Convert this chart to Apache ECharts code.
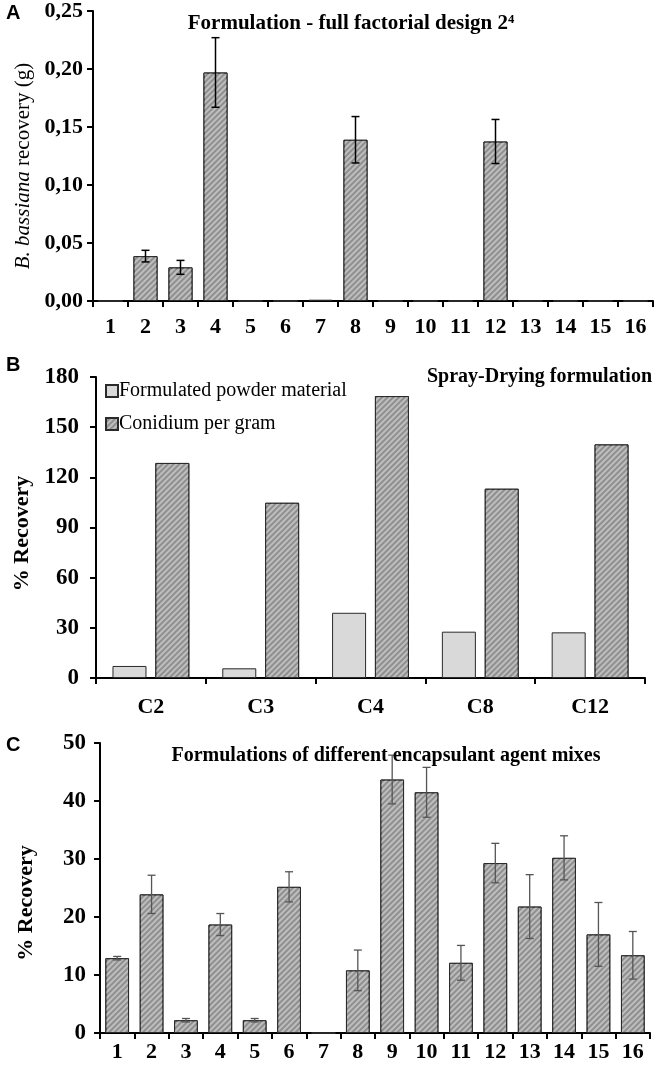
<!DOCTYPE html>
<html><head><meta charset="utf-8">
<script src="https://cdn.jsdelivr.net/npm/echarts@6/dist/echarts.min.js"></script>
<style>html,body{margin:0;padding:0;background:#fff}#c{width:661px;height:1071px}</style>
</head><body><div id="c"></div>
<script>
// Panel A
const catsA = ['1','2','3','4','5','6','7','8','9','10','11','12','13','14','15','16'];
const valsA = [0,0.0387,0.029,0.197,0,0,0.001,0.139,0,0,0,0.1375,0,0,0,0];
const errA  = [0,0.005,0.006,0.030,0,0,0,0.020,0,0,0,0.019,0,0,0,0];
const ticksA = [0,0.05,0.10,0.15,0.20,0.25];
// Panel B
const catsB = ['C2','C3','C4','C8','C12'];
const powderB = [7.2,5.8,39.0,27.7,27.3];
const conidiumB = [128.6,104.8,168.6,113.2,139.7];
const ticksB = [0,30,60,90,120,150,180];
// Panel C
const catsC = ['1','2','3','4','5','6','7','8','9','10','11','12','13','14','15','16'];
const valsC = [12.9,23.9,2.2,18.7,2.2,25.2,0,10.8,43.7,41.5,12.1,29.3,21.8,30.2,17.0,13.4];
const errC  = [0.3,3.3,0.3,1.9,0.3,2.6,0,3.5,4.2,4.3,3.0,3.4,5.5,3.8,5.5,4.1];
const ticksC = [0,10,20,30,40,50];

const SERIF = '"Liberation Serif","Times New Roman",serif';
const SANS = '"Liberation Sans",Arial,sans-serif';
const stripe = {symbol:'rect', symbolSize:1, dashArrayX:[1,0], dashArrayY:[1.5,2], rotation:-Math.PI/4, color:'rgba(210,210,210,0.7)'};
const hatchStyle = {color:'#8f8f8f', borderColor:'#2a2a2a', borderWidth:1, decal: stripe};

function errData(vals, errs){
  const d = [];
  vals.forEach((v,i)=>{ if(errs[i]>0) d.push([i, v-errs[i], v+errs[i]]); });
  return d;
}
function errRender(color, hw, lw){
  return function(params, api){
    const x = api.value(0), lo = api.value(1), hi = api.value(2);
    const p1 = api.coord([x, hi]), p2 = api.coord([x, lo]);
    const st = {stroke:color, lineWidth:lw};
    return {type:'group', children:[
      {type:'line', shape:{x1:p1[0],y1:p1[1],x2:p2[0],y2:p2[1]}, style:st},
      {type:'line', shape:{x1:p1[0]-hw,y1:p1[1],x2:p1[0]+hw,y2:p1[1]}, style:st},
      {type:'line', shape:{x1:p2[0]-hw,y1:p2[1],x2:p2[0]+hw,y2:p2[1]}, style:st}
    ]};
  };
}
function xAx(idx, cats, margin, size){
  return {type:'category', gridIndex:idx, data:cats,
    axisLine:{lineStyle:{color:'#000', width:2}},
    axisTick:{show:true, length:6, lineStyle:{color:'#000', width:2}, interval:0},
    axisLabel:{interval:0, margin:margin, color:'#000', fontFamily:SERIF, fontWeight:'bold', fontSize:size}};
}
function yAx(idx, ticks, fmt, margin, size, name, nameGap, nameStyle){
  return {type:'value', gridIndex:idx, min:ticks[0], max:ticks[ticks.length-1], interval:ticks[1]-ticks[0],
    splitLine:{show:false},
    axisLine:{show:true, lineStyle:{color:'#000', width:2}},
    axisTick:{show:true, length:6, lineStyle:{color:'#000', width:2}},
    axisLabel:{margin:margin, color:'#000', fontFamily:SERIF, fontWeight:'bold', fontSize:size, formatter:fmt},
    name:name, nameLocation:'middle', nameGap:nameGap, nameRotate:90, nameTextStyle:nameStyle};
}

const chart = echarts.init(document.getElementById('c'));
chart.setOption({
  animation:false,
  title:[
    {text:'Formulation - full factorial design 2⁴', left:346, top:8, textAlign:'center',
     textStyle:{fontFamily:SERIF, fontWeight:'bold', fontSize:21, color:'#000'}},
    {text:'Spray-Drying formulation', right:4, top:362,
     textStyle:{fontFamily:SERIF, fontWeight:'bold', fontSize:20, color:'#000'}},
    {text:'Formulations of different encapsulant agent mixes', left:381, top:741, textAlign:'center',
     textStyle:{fontFamily:SERIF, fontWeight:'bold', fontSize:20, color:'#000'}}
  ],
  graphic:[
    {type:'text', left:6, top:3, style:{text:'A', font:'bold 20px '+SANS, fill:'#000'}},
    {type:'text', left:6, top:355, style:{text:'B', font:'bold 20px '+SANS, fill:'#000'}},
    {type:'text', left:6, top:735, style:{text:'C', font:'bold 20px '+SANS, fill:'#000'}}
  ],
  legend:{show:true, orient:'vertical', left:100, top:376, itemWidth:12, itemHeight:12, itemGap:13,
    icon:'rect', data:['Formulated powder material','Conidium per gram'],
    textStyle:{fontFamily:SERIF, fontSize:20, color:'#000', padding:[0,0,0,-4]}},
  grid:[
    {left:93, top:10, width:560, height:291},
    {left:96, top:377, width:549, height:301},
    {left:100, top:743, width:550, height:290}
  ],
  xAxis:[ xAx(0, catsA, 15, 22), xAx(1, catsB, 18, 22), xAx(2, catsC, 8, 22) ],
  yAxis:[
    yAx(0, ticksA, v=>v.toFixed(2).replace('.',','), 10, 22,
        '{i|B. bassiana} recovery (g)', 52,
        {fontFamily:SERIF, fontSize:21, color:'#000', padding:[0,20,0,0],
         rich:{i:{fontFamily:SERIF, fontSize:21, fontStyle:'italic', color:'#000'}}}),
    yAx(1, ticksB, v=>String(v), 17, 23, '% Recovery', 58,
        {fontFamily:SERIF, fontSize:22, fontWeight:'bold', color:'#000', padding:[0,12,0,0]}),
    yAx(2, ticksC, v=>String(v), 14, 23, '% Recovery', 63,
        {fontFamily:SERIF, fontSize:22, fontWeight:'bold', color:'#000', padding:[0,30,0,0]})
  ],
  series:[
    {type:'bar', xAxisIndex:0, yAxisIndex:0, data:valsA, barCategoryGap:'31%', itemStyle:hatchStyle},
    {type:'custom', xAxisIndex:0, yAxisIndex:0, data:errData(valsA, errA), renderItem:errRender('#000',4,1.5), z:5},
    {type:'bar', name:'Formulated powder material', xAxisIndex:1, yAxisIndex:1, data:powderB, barCategoryGap:'30%', barGap:'26%',
     itemStyle:{color:'#d9d9d9', borderColor:'#2a2a2a', borderWidth:1}},
    {type:'bar', name:'Conidium per gram', xAxisIndex:1, yAxisIndex:1, data:conidiumB, barCategoryGap:'30%', barGap:'26%',
     itemStyle:hatchStyle},
    {type:'bar', xAxisIndex:2, yAxisIndex:2, data:valsC, barCategoryGap:'31%', itemStyle:hatchStyle},
    {type:'custom', xAxisIndex:2, yAxisIndex:2, data:errData(valsC, errC), renderItem:errRender('#555',4,1.3), z:5}
  ]
});
</script></body></html>
